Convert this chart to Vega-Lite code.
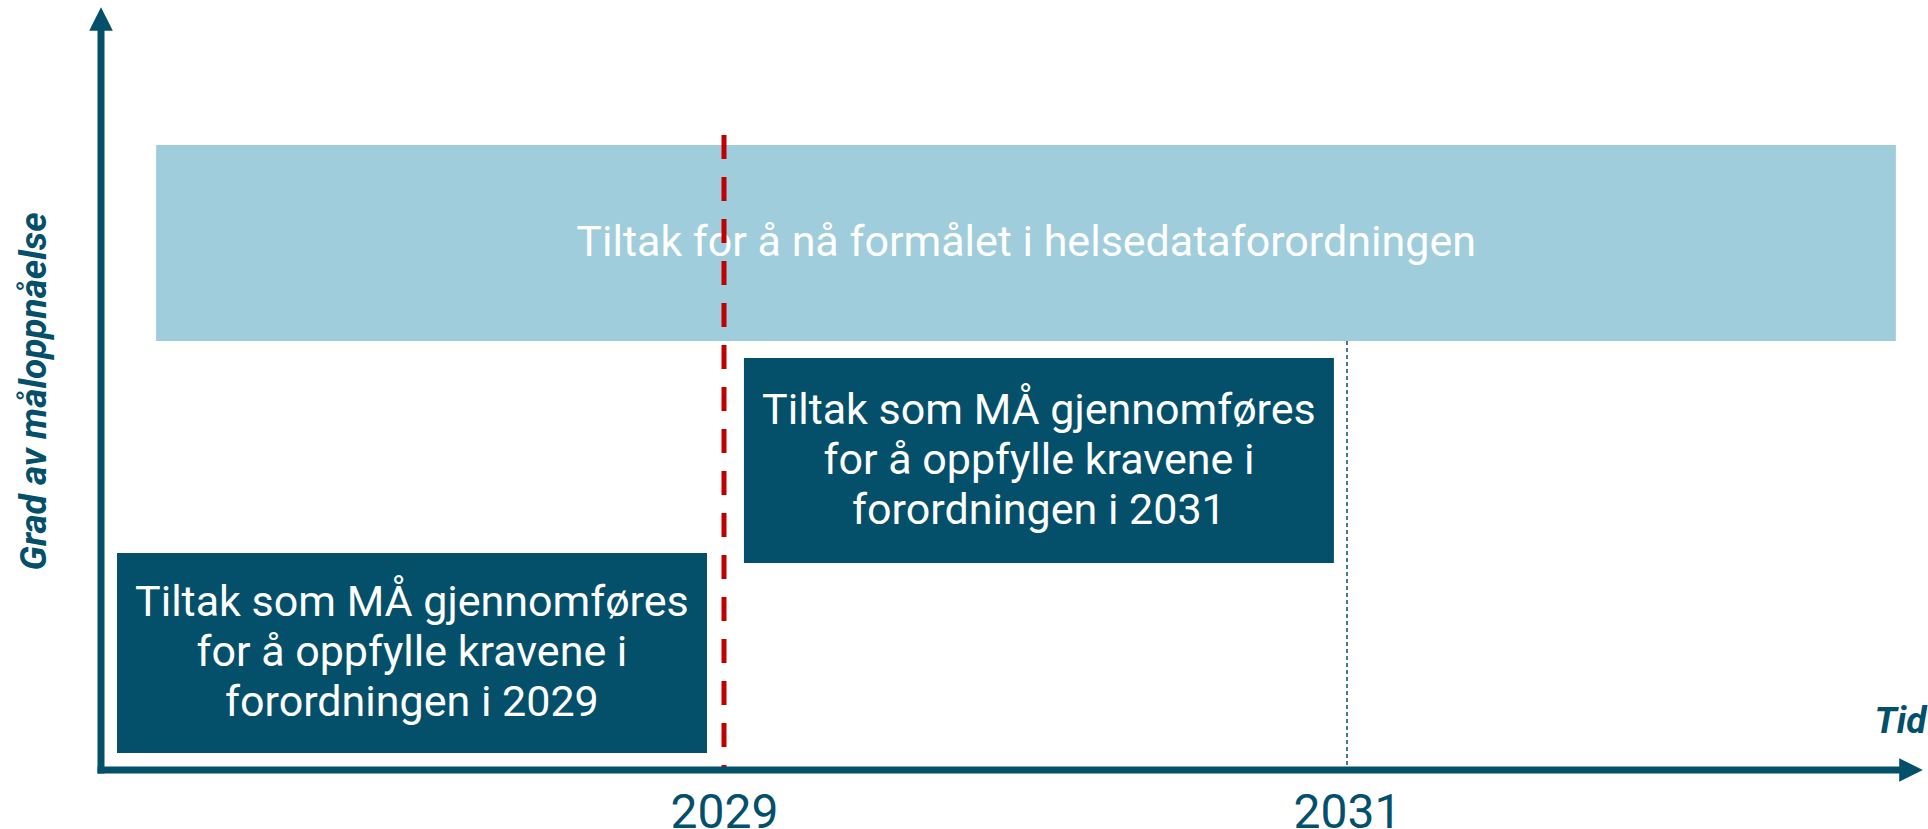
{
  "$schema": "https://vega.github.io/schema/vega-lite/v6.json",
  "width": 1928,
  "height": 770,
  "autosize": {"type": "none"},
  "padding": {"left": 0, "top": 0, "right": 0, "bottom": 59},
  "background": "white",
  "config": {"view": {"stroke": null}, "font": "Roboto"},
  "datasets": {
    "tiltak": [
      {"tiltak": ["Tiltak for å nå formålet i helsedataforordningen"], "kategori": "Mål", "fra_år": 2027.177, "til_år": 2032.762, "fra_grad": 55.71, "til_grad": 81.17, "midt_år": 2029.97, "midt_grad": 68.44},
      {"tiltak": ["Tiltak som MÅ gjennomføres", "for å oppfylle kravene i", "forordningen i 2031"], "kategori": "Krav", "fra_år": 2029.064, "til_år": 2030.958, "fra_grad": 26.88, "til_grad": 53.51, "midt_år": 2030.011, "midt_grad": 40.19},
      {"tiltak": ["Tiltak som MÅ gjennomføres", "for å oppfylle kravene i", "forordningen i 2029"], "kategori": "Krav", "fra_år": 2027.0514, "til_år": 2028.9454, "fra_grad": 2.21, "til_grad": 28.18, "midt_år": 2027.998, "midt_grad": 15.19}
    ],
    "frister": [
      {"frist": "2029", "år": 2029, "fra_grad": 82.47, "til_grad": 0},
      {"frist": "2031", "år": 2031, "fra_grad": 55.71, "til_grad": 0}
    ],
    "akser": [
      {"akse": "Tid", "fra_år": 2027, "til_år": 2032.772, "fra_grad": 0, "til_grad": 0},
      {"akse": "Grad", "fra_år": 2027, "til_år": 2027, "fra_grad": 0, "til_grad": 95.97}
    ],
    "piler": [
      {"akse": "Tid", "år": 2032.8106, "grad": 0},
      {"akse": "Grad", "år": 2027.0, "grad": 97.53}
    ]
  },
  "layer": [
    {
      "data": {"name": "tiltak"},
      "mark": {"type": "rect"},
      "encoding": {
        "x": {"field": "fra_år", "type": "quantitative", "title": "Tid",
          "scale": {"domain": [2029, 2031], "range": [724, 1347], "nice": false, "zero": false},
          "axis": {"values": [2029, 2031], "format": "d", "domain": false, "ticks": false, "grid": false,
            "labelFont": "Roboto", "labelFontSize": 48, "labelColor": "#04506a", "labelPadding": 19,
            "labelFlush": false, "labelOverlap": false,
            "titleFont": "Roboto", "titleFontSize": 37, "titleFontStyle": "italic", "titleFontWeight": "bold",
            "titleColor": "#04506a", "titleX": 1926, "titleY": -38, "titleAlign": "right", "titleBaseline": "alphabetic", "titleAnchor": null}},
        "x2": {"field": "til_år"},
        "y": {"field": "fra_grad", "type": "quantitative", "title": "Grad av måloppnåelse",
          "scale": {"domain": [0, 100], "nice": false, "zero": false},
          "axis": {"labels": false, "ticks": false, "domain": false, "grid": false,
            "titleFont": "Roboto", "titleFontSize": 37, "titleFontStyle": "italic", "titleFontWeight": "bold",
            "titleColor": "#04506a", "titleX": 45, "titleY": 391, "titleAngle": 270, "titleAlign": "center", "titleBaseline": "alphabetic", "titleAnchor": null}},
        "y2": {"field": "til_grad"},
        "color": {"field": "kategori", "type": "nominal", "scale": {"domain": ["Mål", "Krav"], "range": ["#9fcddb", "#04506a"]}, "legend": null}
      }
    },
    {
      "data": {"name": "frister"},
      "transform": [{"filter": "datum.frist == '2031'"}],
      "mark": {"type": "rule", "color": "#04506a", "strokeWidth": 1.5, "strokeDash": [4, 3]},
      "encoding": {
        "x": {"field": "år", "type": "quantitative", "title": "Tid", "scale": {"domain": [2029, 2031], "range": [724, 1347], "nice": false, "zero": false}},
        "y": {"field": "fra_grad", "type": "quantitative", "title": "Grad av måloppnåelse", "scale": {"domain": [0, 100], "nice": false, "zero": false}},
        "y2": {"field": "til_grad"}
      }
    },
    {
      "data": {"name": "tiltak"},
      "transform": [{"filter": "datum.kategori == 'Mål'"}],
      "mark": {"type": "text", "color": "white", "font": "Roboto", "fontSize": 43, "align": "center", "baseline": "middle"},
      "encoding": {
        "x": {"field": "midt_år", "type": "quantitative", "title": "Tid", "scale": {"domain": [2029, 2031], "range": [724, 1347], "nice": false, "zero": false}},
        "y": {"field": "midt_grad", "type": "quantitative", "title": "Grad av måloppnåelse", "scale": {"domain": [0, 100], "nice": false, "zero": false}},
        "text": {"field": "tiltak"}
      }
    },
    {
      "data": {"name": "tiltak"},
      "transform": [{"filter": "datum.kategori == 'Krav'"}],
      "mark": {"type": "text", "color": "white", "font": "Roboto", "fontSize": 43, "lineHeight": 50, "align": "center", "baseline": "middle", "dy": -50},
      "encoding": {
        "x": {"field": "midt_år", "type": "quantitative", "title": "Tid", "scale": {"domain": [2029, 2031], "range": [724, 1347], "nice": false, "zero": false}},
        "y": {"field": "midt_grad", "type": "quantitative", "title": "Grad av måloppnåelse", "scale": {"domain": [0, 100], "nice": false, "zero": false}},
        "text": {"field": "tiltak"}
      }
    },
    {
      "data": {"name": "frister"},
      "transform": [{"filter": "datum.frist == '2029'"}],
      "mark": {"type": "rule", "color": "#c00000", "strokeWidth": 5, "strokeDash": [24, 18]},
      "encoding": {
        "x": {"field": "år", "type": "quantitative", "title": "Tid", "scale": {"domain": [2029, 2031], "range": [724, 1347], "nice": false, "zero": false}},
        "y": {"field": "fra_grad", "type": "quantitative", "title": "Grad av måloppnåelse", "scale": {"domain": [0, 100], "nice": false, "zero": false}},
        "y2": {"field": "til_grad"}
      }
    },
    {
      "data": {"name": "akser"},
      "mark": {"type": "rule", "color": "#04506a", "strokeWidth": 7, "strokeCap": "square"},
      "encoding": {
        "x": {"field": "fra_år", "type": "quantitative", "title": "Tid", "scale": {"domain": [2029, 2031], "range": [724, 1347], "nice": false, "zero": false}},
        "x2": {"field": "til_år"},
        "y": {"field": "fra_grad", "type": "quantitative", "title": "Grad av måloppnåelse", "scale": {"domain": [0, 100], "nice": false, "zero": false}},
        "y2": {"field": "til_grad"}
      }
    },
    {
      "data": {"name": "piler"},
      "mark": {"type": "point", "filled": true, "opacity": 1, "color": "#04506a", "size": 560},
      "encoding": {
        "x": {"field": "år", "type": "quantitative", "title": "Tid", "scale": {"domain": [2029, 2031], "range": [724, 1347], "nice": false, "zero": false}},
        "y": {"field": "grad", "type": "quantitative", "title": "Grad av måloppnåelse", "scale": {"domain": [0, 100], "nice": false, "zero": false}},
        "shape": {"field": "akse", "type": "nominal", "scale": {"domain": ["Tid", "Grad"], "range": ["M1,0L-1,-1L-1,1Z", "M0,-1L-1,1L1,1Z"]}, "legend": null}
      }
    }
  ]
}
